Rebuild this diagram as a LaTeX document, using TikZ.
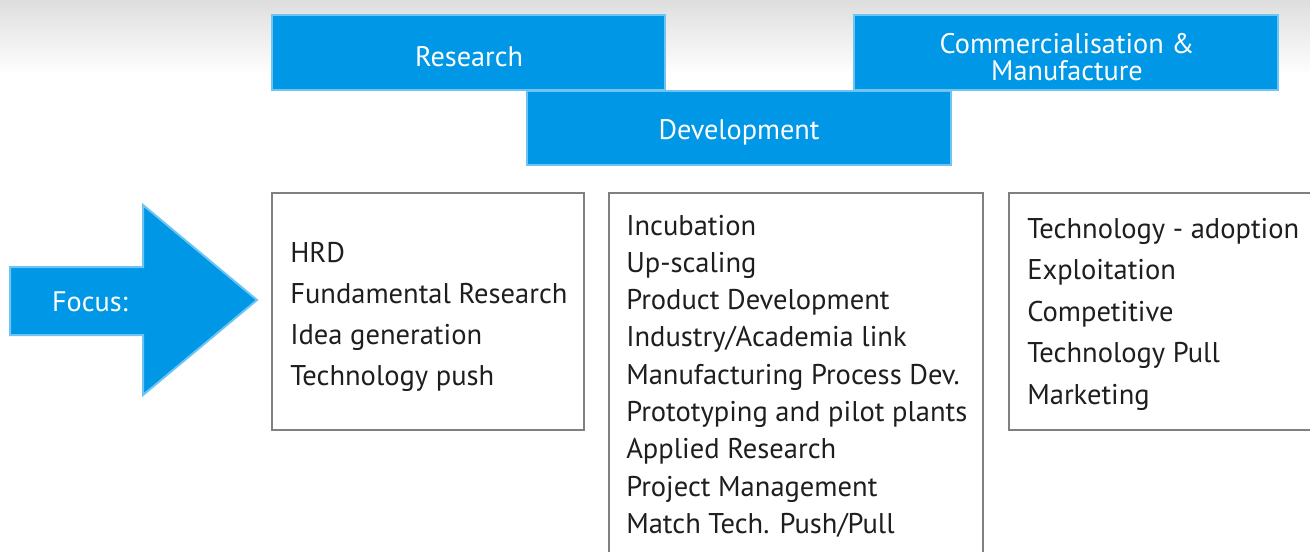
\documentclass[tikz,border=0pt]{standalone}
\usepackage{fontspec}
\setmainfont{PT Sans}
\definecolor{blockblue}{RGB}{0,151,230}
\definecolor{edgeblue}{RGB}{110,196,242}
\definecolor{framegray}{RGB}{128,128,128}
\definecolor{textdark}{RGB}{30,30,30}
\tikzset{
  bluebox/.style={draw=edgeblue, fill=blockblue, line width=1.5},
  graybox/.style={draw=framegray, line width=1.5},
  headtext/.style={text=white, font=\fontsize{21.2}{19.8}\selectfont, inner sep=0},
  itemtext/.style={text=textdark, font=\fontsize{21.4}{24}\selectfont, anchor=base west, inner sep=0}
}
\begin{document}
\begin{tikzpicture}[x=0.75pt,y=0.75pt,yscale=-1,xscale=1]
\useasboundingbox (0,0) rectangle (1310,551);

%Background shadow
\shade [top color=black!13, bottom color=white] (0,0) rectangle (1310,75);

%Shape: Rectangle [Research]
\draw [bluebox] (272,15) -- (665,15) -- (665,90) -- (272,90) -- cycle ;
%Shape: Rectangle [Commercialisation]
\draw [bluebox] (854,15) -- (1278,15) -- (1278,90) -- (854,90) -- cycle ;
%Shape: Rectangle [Development]
\draw [bluebox] (527,91) -- (951,91) -- (951,165) -- (527,165) -- cycle ;
%Shape: Right Arrow [Focus]
\draw [bluebox] (10,267) -- (143,267) -- (143,205) -- (257,300) -- (143,395) -- (143,335) -- (10,335) -- cycle ;

%Shape: Rectangle [box 1]
\draw [graybox] (272,193) -- (584,193) -- (584,430) -- (272,430) -- cycle ;
%Shape: Rectangle [box 2]
\draw [graybox] (983,562) -- (983,193) -- (609,193) -- (609,562) ;
%Shape: Rectangle [box 3]
\draw [graybox] (1320,193) -- (1009,193) -- (1009,430) -- (1320,430) ;

% Text Node
\draw (469,57) node (research) [headtext] {Research};
% Text Node
\draw (1067,57) node (commerce) [headtext, align=center] {Commercialisation \&\\Manufacture};
% Text Node
\draw (739,129) node (develop) [headtext, anchor=base, yshift=-7.5] {Development};
% Text Node
\draw (90,302) node (focus) [headtext] {Focus:};

% Text Node
\draw (290,262) node (hrd) [itemtext] {HRD};
% Text Node
\draw (290,303) node (fundres) [itemtext] {Fundamental Research};
% Text Node
\draw (290,344) node (ideagen) [itemtext] {Idea generation};
% Text Node
\draw (290,385) node (techpush) [itemtext] {Technology push};

% Text Node
\draw (626,235) node (incub) [itemtext] {Incubation};
% Text Node
\draw (626,272.3) node (upscale) [itemtext] {Up-scaling};
% Text Node
\draw (626,309.6) node (proddev) [itemtext] {Product Development};
% Text Node
\draw (626,346.9) node (indlink) [itemtext] {Industry/Academia link};
% Text Node
\draw (626,384.2) node (manuproc) [itemtext] {Manufacturing Process Dev.};
% Text Node
\draw (626,421.5) node (proto) [itemtext] {Prototyping and pilot plants};
% Text Node
\draw (626,458.8) node (appres) [itemtext] {Applied Research};
% Text Node
\draw (626,496.1) node (projman) [itemtext] {Project Management};
% Text Node
\draw (626,533.4) node (matchtech) [itemtext] {Match Tech. Push/Pull};

% Text Node
\draw (1027,238) node (techadopt) [itemtext] {Technology - adoption};
% Text Node
\draw (1027,279.5) node (exploit) [itemtext] {Exploitation};
% Text Node
\draw (1027,321) node (compet) [itemtext] {Competitive};
% Text Node
\draw (1027,362.5) node (techpull) [itemtext] {Technology Pull};
% Text Node
\draw (1027,404) node (market) [itemtext] {Marketing};
\end{tikzpicture}
\end{document}
